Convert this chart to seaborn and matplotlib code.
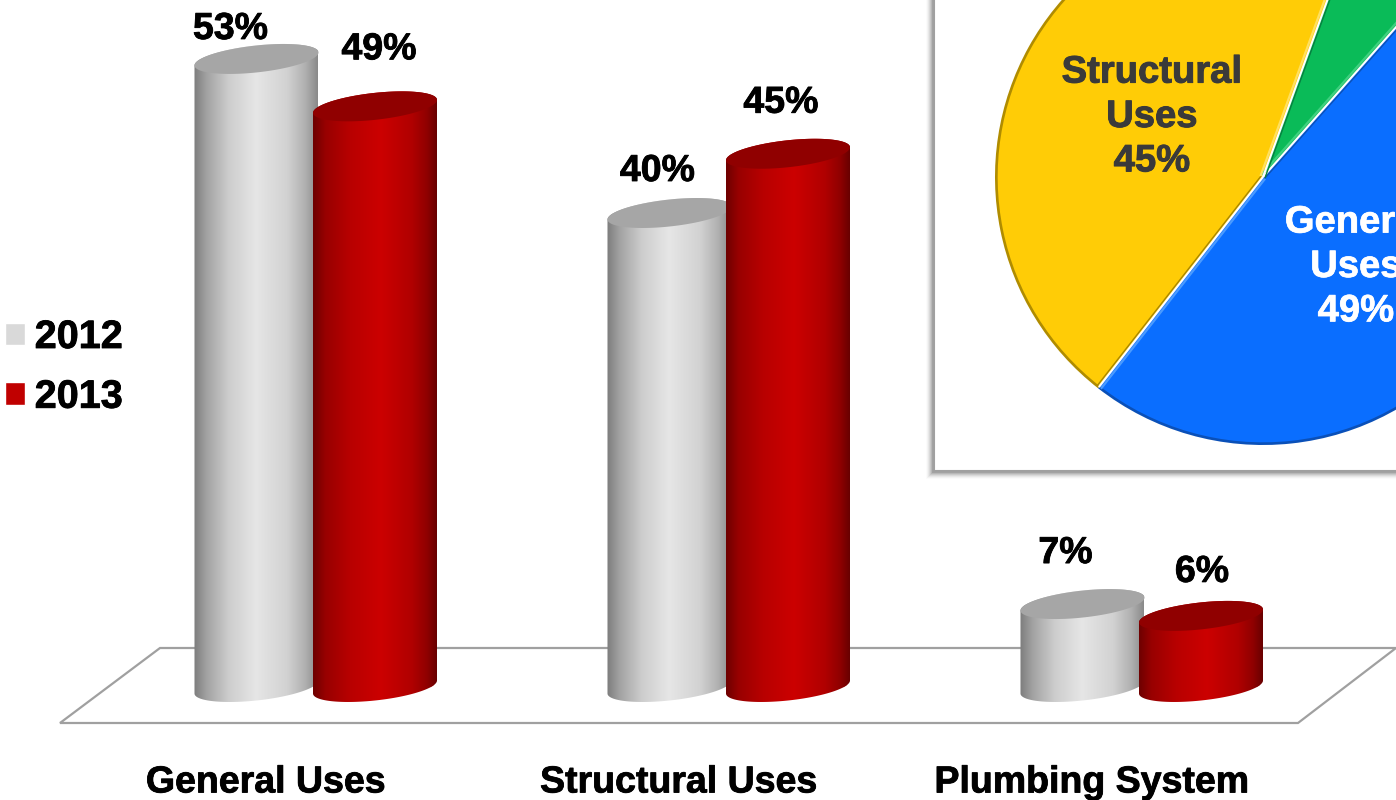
import numpy as np
import pandas as pd
import matplotlib
matplotlib.use("Agg")
import matplotlib.pyplot as plt
import seaborn as sns
from matplotlib.colors import LinearSegmentedColormap
from matplotlib.patches import Rectangle, Polygon
from matplotlib.path import Path
from matplotlib.transforms import ScaledTranslation, IdentityTransform
import matplotlib.patheffects as pe

# ---- data ----
categories = ["General Uses", "Structural Uses", "Plumbing System"]
years = ["2012", "2013"]
values_2012 = [53, 40, 7]
values_2013 = [49, 45, 6]
pie_labels = ["General\nUses\n49%", "", "Structural\nUses\n45%"]
pie_values = [49, 6, 45]

# ---- styles / layout ----
W, H = 1396, 800
FONT = "Liberation Sans"
sns.set_theme(style="white")
plt.rcParams["font.family"] = [FONT, "DejaVu Sans"]
PX_PER_UNIT = 11.85
PX_PER_CAT = 413.0
BASE_PX = 687.0
AX_BOTTOM_PX = 745.0
CAT0_PX = 315.75
bar_colors = {"2012": "#d9d9d9", "2013": "#c00000"}
top_colors = {"2012": "#a6a6a6", "2013": "#900000"}
grad = {
    "2012": LinearSegmentedColormap.from_list("g", [(0, "#7d7d7d"), (.1, "#a2a2a2"), (.28, "#cdcdcd"), (.5, "#e6e6e6"),
                                                    (.75, "#d2d2d2"), (.9, "#b0b0b0"), (1, "#8a8a8a")]),
    "2013": LinearSegmentedColormap.from_list("r", [(0, "#6e0000"), (.1, "#980000"), (.3, "#b80000"), (.55, "#cc0000"),
                                                    (.8, "#b00000"), (.92, "#900000"), (1, "#680000")]),
}
label_offsets = {"2012": [(-26, 30), (-12, 42), (-17, 51)], "2013": [(4, 57), (-7, 51), (1, 44)]}
HALF_W, TILT, MINOR = 62.0, 6.5, 13.5


def heavy(color, lw=0.6):
    return [pe.Stroke(linewidth=lw, foreground=color), pe.Normal()]


df = pd.DataFrame({
    "category": categories * 2,
    "year": [years[0]] * 3 + [years[1]] * 3,
    "value": values_2012 + values_2013,
})

fig = plt.figure(figsize=(W / 100, H / 100), dpi=100, facecolor="white")
ax = fig.add_axes([0, (H - AX_BOTTOM_PX) / H, 1, AX_BOTTOM_PX / H])
ax.patch.set_visible(False)
sns.barplot(data=df, x="category", y="value", hue="year", hue_order=years, order=categories,
            palette=bar_colors, saturation=1, width=237 / PX_PER_CAT, gap=0, ax=ax)
xlim = ((0 - CAT0_PX) / PX_PER_CAT, (W - CAT0_PX) / PX_PER_CAT)
ylim = ((BASE_PX - AX_BOTTOM_PX) / PX_PER_UNIT, BASE_PX / PX_PER_UNIT)
sx = 1 / PX_PER_CAT
sy = 1 / PX_PER_UNIT

t = np.linspace(0, 2 * np.pi, 181)


def ring(cx, cy):
    return cx + HALF_W * sx * np.cos(t), cy + (TILT * np.cos(t) + MINOR * np.sin(t)) * sy


# floor (pixel frame of the figure)
floor_px = [(60, 723), (160, 648), (1396, 648), (1298, 723)]
floor = Polygon([(x, H - y) for x, y in floor_px], closed=True, fill=False, edgecolor="#a0a0a0", lw=1.6,
                transform=IdentityTransform(), zorder=1, clip_on=False)
ax.add_artist(floor)

for z, (year, cont) in enumerate(zip(years, ax.containers)):
    for i, bar in enumerate(cont):
        h = bar.get_height()
        cx = bar.get_x() + bar.get_width() / 2
        # lower half of the base ring + upper half of the top ring outline the body
        xb, yb = ring(cx, 0)
        xt, yt = ring(cx, h)
        lower = t >= np.pi
        upper = t <= np.pi
        body = np.column_stack([np.r_[xb[lower], xt[upper]], np.r_[yb[lower], yt[upper]]])
        path = Path(np.vstack([body, body[0]]), closed=True)
        im = ax.imshow(np.linspace(0, 1, 256)[None, :], cmap=grad[year], aspect="auto",
                       extent=(cx - HALF_W * sx, cx + HALF_W * sx, -2, h + 3), zorder=2 + 0.1 * z)
        im.set_clip_path(path, ax.transData)
        bar.set_clip_path(path, ax.transData)
        ax.fill(xt, yt, color=top_colors[year], lw=0, zorder=2.05 + 0.1 * z)
        dx, dy = label_offsets[year][i]
        ax.annotate(f"{h:.0f}%", (cx, h), xytext=(dx * 0.72, dy * 0.72), textcoords="offset points",
                    ha="center", va="center", fontsize=27, fontweight="bold", color="black", zorder=5,
                    family=FONT, path_effects=heavy("black"))

ax.set_xlim(*xlim)
ax.set_ylim(*ylim)
ax.set_xlabel("")
ax.set_ylabel("")
ax.set_yticks([])
ax.tick_params(axis="x", length=0, pad=14, labelsize=27)
offset = ScaledTranslation(-50 / 100, 0, fig.dpi_scale_trans)
for lab in ax.get_xticklabels():
    lab.set_fontweight("bold")
    lab.set_color("black")
    lab.set_path_effects(heavy("black"))
    lab.set_transform(lab.get_transform() + offset)
for s in ax.spines.values():
    s.set_visible(False)

sns.move_legend(ax, "upper left", bbox_to_anchor=(5 / W, (AX_BOTTOM_PX - 318) / AX_BOTTOM_PX), frameon=False, title=None,
                fontsize=28.5, handlelength=0.5, handleheight=0.5, handletextpad=0.25, labelspacing=0.55,
                borderpad=0, borderaxespad=0)
for txt in ax.get_legend().get_texts():
    txt.set_fontweight("bold")
    txt.set_color("black")
    txt.set_path_effects(heavy("black"))

# inset panel with soft shadow
PANEL_L, PANEL_B = 934, 471
for k, a in zip(range(8, 0, -1), [.02, .04, .06, .08, .10, .13, .16, .2]):
    r = Rectangle((PANEL_L - k, H - PANEL_B - k), W + 50, PANEL_B + 50 + k, transform=IdentityTransform(),
                  facecolor="#404040", alpha=a, lw=0, zorder=-1)
    fig.add_artist(r)

pax = fig.add_axes([PANEL_L / W, (H - PANEL_B) / H, (W + 20 - PANEL_L) / W, (PANEL_B + 20) / H])
pax.set_xticks([])
pax.set_yticks([])
pax.set_facecolor("white")
for s in pax.spines.values():
    s.set_edgecolor("#a0a0a0")
    s.set_linewidth(1.5)

CX, CY, R = 1263, 177, 268
pie_ax = fig.add_axes([(CX - R) / W, (H - CY - R) / H, 2 * R / W, 2 * R / H])
pie_colors = ["#0a6eff", "#0abb58", "#ffcc06"]
rim_colors = ["#0a50b8", "#068040", "#b08c00"]
dark_side = ["#a88600", "#0a50b8", "#068040"]   # clockwise side of each wedge's first edge
light_side = ["#4a9bff", "#40d080", "#ffe060"]  # counter-clockwise side
pie_ax.pie(pie_values, colors=rim_colors, startangle=232, radius=1.0, wedgeprops={"lw": 0})
wedges, _ = pie_ax.pie(pie_values, colors=pie_colors, startangle=232, radius=0.99, wedgeprops={"lw": 0})
for w, dc, lc in zip(wedges, dark_side, light_side):
    a = np.deg2rad(w.theta1)
    u = np.array([np.cos(a), np.sin(a)])
    n = np.array([-np.sin(a), np.cos(a)])
    for off, col, lw in ((0.010, lc, 1.6), (-0.008, dc, 1.0), (0, "white", 1.5)):
        p0 = n * off
        p1 = u * 0.995 + n * off
        pie_ax.plot([p0[0], p1[0]], [p0[1], p1[1]], color=col, lw=lw, solid_capstyle="butt")
pie_ax.set_xlim(-1, 1)
pie_ax.set_ylim(-1, 1)
pie_ax.set_aspect("equal")
pie_ax.axis("off")

fig.text(1152 / W, (H - 117) / H, pie_labels[2], ha="center", va="center", fontsize=27.5, fontweight="bold",
         color="#3a3a3a", linespacing=1.3, zorder=10, path_effects=heavy("#3a3a3a", 0.7))
fig.text(1356 / W, (H - 267) / H, pie_labels[0], ha="center", va="center", fontsize=27.5, fontweight="bold",
         color="white", linespacing=1.3, zorder=10, path_effects=heavy("white", 0.5))

fig.savefig("out.png", dpi=100, facecolor="white")
